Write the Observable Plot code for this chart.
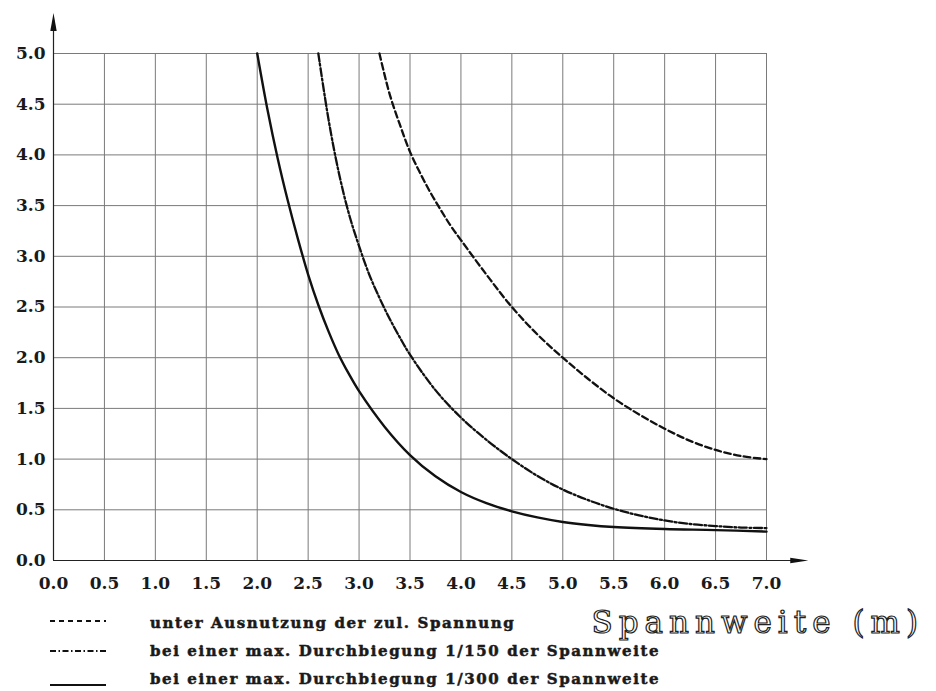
<!DOCTYPE html>
<html>
<head>
<meta charset="utf-8">
<script src="https://cdn.jsdelivr.net/npm/d3@7"></script>
<script src="https://cdn.jsdelivr.net/npm/@observablehq/plot@0.6"></script>
<style>
  html, body { margin: 0; padding: 0; background: #fff; }
  #wrap { position: relative; width: 936px; height: 691px; background: #fff; }
  #legend { position: relative; width: 936px; height: 91px; font-family: "DejaVu Serif", serif; }
  .row { position: absolute; left: 0; height: 22px; width: 640px; }
  .row svg { position: absolute; left: 50px; top: 0; }
  .row span { position: absolute; left: 150px; top: 2px; font-weight: bold; font-size: 15px; letter-spacing: 1.6px; color: #1a1a1a; -webkit-text-stroke: 0.5px #1a1a1a; white-space: nowrap; }
  #xlabel { position: absolute; right: 12px; top: 4px; font-family: "DejaVu Serif", serif; font-size: 31px; letter-spacing: 6px; color: #fff; -webkit-text-stroke: 1.2px #222; white-space: nowrap; }
</style>
</head>
<body>
<div id="wrap">
  <div id="chart"></div>
  <div id="legend"></div>
</div>
<script>
// Tick values
const xTicks = [0, 0.5, 1, 1.5, 2, 2.5, 3, 3.5, 4, 4.5, 5, 5.5, 6, 6.5, 7];
const yTicks = [0, 0.5, 1, 1.5, 2, 2.5, 3, 3.5, 4, 4.5, 5];

// Series: unter Ausnutzung der zul. Spannung (dashed)
const spannungX = [3.2, 3.3, 3.4, 3.5, 3.6, 3.7, 3.8, 3.9, 4.0, 4.25, 4.5, 4.75, 5.0, 5.25, 5.5, 5.75, 6.0, 6.25, 6.5, 6.75, 7.0];
const spannungY = [5.0, 4.6, 4.3, 4.03, 3.82, 3.63, 3.46, 3.30, 3.16, 2.82, 2.5, 2.23, 2.0, 1.79, 1.6, 1.44, 1.3, 1.18, 1.09, 1.03, 1.0];

// Series: Durchbiegung 1/150 (dash-dot)
const d150X = [2.6, 2.7, 2.8, 2.9, 3.0, 3.1, 3.2, 3.3, 3.4, 3.5, 3.75, 4.0, 4.25, 4.5, 4.75, 5.0, 5.25, 5.5, 5.75, 6.0, 6.25, 6.5, 6.75, 7.0];
const d150Y = [5.0, 4.35, 3.83, 3.42, 3.1, 2.82, 2.59, 2.385, 2.2, 2.03, 1.68, 1.41, 1.19, 1.0, 0.835, 0.70, 0.595, 0.51, 0.445, 0.395, 0.36, 0.34, 0.325, 0.32];

// Series: Durchbiegung 1/300 (solid)
const d300X = [2.0, 2.1, 2.2, 2.3, 2.4, 2.5, 2.6, 2.7, 2.8, 2.9, 3.0, 3.25, 3.5, 3.75, 4.0, 4.25, 4.5, 4.75, 5.0, 5.25, 5.5, 6.0, 6.5, 7.0];
const d300Y = [5.0, 4.45, 3.97, 3.55, 3.17, 2.82, 2.52, 2.26, 2.03, 1.84, 1.67, 1.32, 1.04, 0.83, 0.675, 0.565, 0.485, 0.425, 0.38, 0.35, 0.33, 0.31, 0.30, 0.285];

const legendLabels = [
  "unter Ausnutzung der zul. Spannung",
  "bei einer max. Durchbiegung 1/150 der Spannweite",
  "bei einer max. Durchbiegung 1/300 der Spannweite"
];
const xAxisTitle = "Spannweite (m)";

// axis arrow extents (data units beyond the domain)
const xArrowEnd = 7.41;
const yArrowEnd = 5.40;

const toRows = (xs, ys) => xs.map((x, i) => ({x, y: ys[i]}));
const sSpannung = toRows(spannungX, spannungY);
const s150 = toRows(d150X, d150Y);
const s300 = toRows(d300X, d300Y);

const dashStyles = ["6.5,3.5", "8,2.5,2,2.5", null];

// custom arrowhead symbols
const arrowRight = { draw(ctx) { ctx.moveTo(9, 0); ctx.lineTo(-9, -2.8); ctx.lineTo(-9, 2.8); ctx.closePath(); } };
const arrowUp = { draw(ctx) { ctx.moveTo(0, -9); ctx.lineTo(-3.2, 9); ctx.lineTo(3.2, 9); ctx.closePath(); } };

const fmt = d3.format(".1f");

const plot = Plot.plot({
  width: 936,
  height: 600,
  marginLeft: 53,
  marginRight: 170,
  marginTop: 53,
  marginBottom: 40,
  x: {domain: [0, 7]},
  y: {domain: [0, 5]},
  style: {fontFamily: "DejaVu Serif", fontSize: "17px", fontWeight: "bold", background: "#fff", color: "#1a1a1a", overflow: "visible"},
  marks: [
    Plot.ruleX(xTicks, {y1: 0, y2: 5, stroke: "#7a7a7a", strokeWidth: 1}),
    Plot.ruleY(yTicks, {x1: 0, x2: 7, stroke: "#7a7a7a", strokeWidth: 1}),
    Plot.ruleX([0], {y1: 0, y2: yArrowEnd - 0.1, stroke: "#222", strokeWidth: 1.2}),
    Plot.ruleY([0], {x1: 0, x2: xArrowEnd - 0.1, stroke: "#222", strokeWidth: 1.2}),
    Plot.dot([{x: xArrowEnd, y: 0}], {x: "x", y: "y", symbol: arrowRight, r: 4, fill: "#111", stroke: "none", dx: -9}),
    Plot.dot([{x: 0, y: yArrowEnd}], {x: "x", y: "y", symbol: arrowUp, r: 4, fill: "#111", stroke: "none", dy: 9}),
    Plot.line(sSpannung, {x: "x", y: "y", curve: "catmull-rom", stroke: "#111", strokeWidth: 2.3, strokeDasharray: dashStyles[0]}),
    Plot.line(s150, {x: "x", y: "y", curve: "catmull-rom", stroke: "#111", strokeWidth: 2.3, strokeDasharray: dashStyles[1]}),
    Plot.line(s300, {x: "x", y: "y", curve: "catmull-rom", stroke: "#111", strokeWidth: 2.4}),
    Plot.axisX({ticks: xTicks, tickSize: 0, tickPadding: 16, tickFormat: fmt, label: null}),
    Plot.axisY({ticks: yTicks, tickSize: 0, tickPadding: 8, tickFormat: fmt, label: null})
  ]
});
document.getElementById("chart").appendChild(plot);

// legend below the SVG
const legend = d3.select("#legend");
const rowTops = [12, 40, 68];
const sampleY = [9, 11, 17];
legendLabels.forEach((label, i) => {
  const row = legend.append("div").attr("class", "row").style("top", rowTops[i] + "px");
  const svg = row.append("svg").attr("width", 60).attr("height", 22);
  svg.append("line")
    .attr("x1", 0).attr("x2", 56)
    .attr("y1", sampleY[i]).attr("y2", sampleY[i])
    .attr("stroke", "#111")
    .attr("stroke-width", i === 2 ? 2.2 : 1.8)
    .attr("stroke-dasharray", dashStyles[i] ? (i === 0 ? "5,4" : "6,2.5,1.5,2.5") : null);
  row.append("span").text(label);
});
legend.append("div").attr("id", "xlabel").text(xAxisTitle);
</script>
</body>
</html>
